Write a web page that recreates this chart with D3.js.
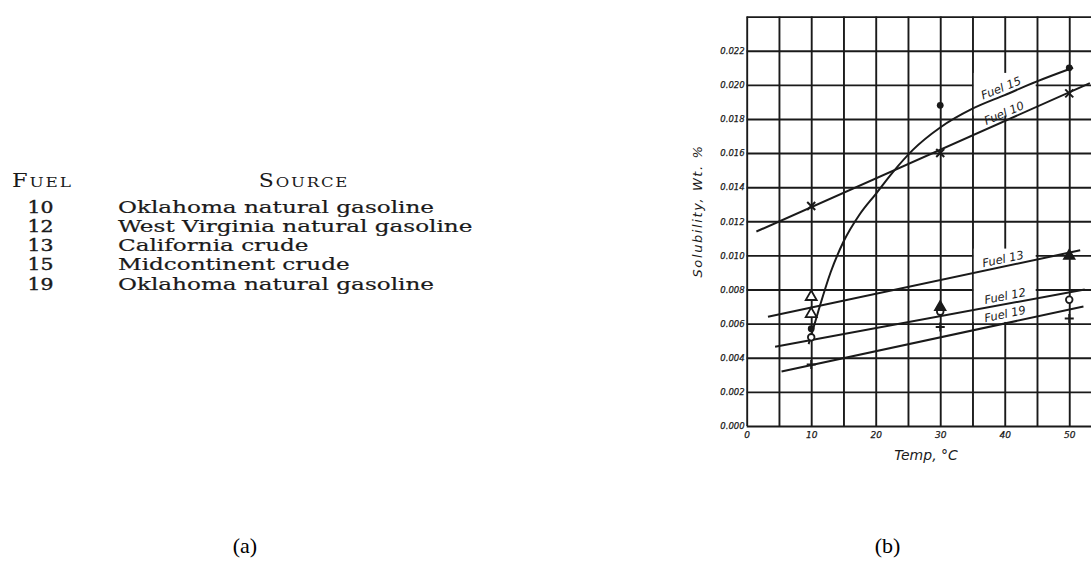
<!DOCTYPE html>
<html>
<head>
<meta charset="utf-8">
<script src="https://cdn.jsdelivr.net/npm/d3@7"></script>
<style>
  body { margin: 0; background: #fff; }
  svg { display: block; }
</style>
</head>
<body>
<svg id="fig" width="1091" height="561"></svg>
<script>
// ---- table (a): fuels and their sources ----
const fuelIds = ["10", "12", "13", "15", "19"];
const fuelSources = [
  "Oklahoma natural gasoline",
  "West Virginia natural gasoline",
  "California crude",
  "Midcontinent crude",
  "Oklahoma natural gasoline"
];

// ---- chart (b): solubility of water vs temperature ----
const tempGrid = [0, 5, 10, 15, 20, 25, 30, 35, 40, 45, 50, 55];
const tempLabels = [0, 10, 20, 30, 40, 50];
const solGrid = [0, 0.002, 0.004, 0.006, 0.008, 0.010, 0.012, 0.014, 0.016, 0.018, 0.020, 0.022, 0.024];
const solLabels = [0, 0.002, 0.004, 0.006, 0.008, 0.010, 0.012, 0.014, 0.016, 0.018, 0.020, 0.022];

// measured points [temp °C, solubility wt %]
const fuel10Points = [[10, 0.0129], [30, 0.0160], [50, 0.0195]];
const fuel12Points = [[10, 0.0052], [30, 0.0067], [50, 0.0074]];
const fuel13Points = [[30, 0.0070], [50, 0.0100]];
const fuel13RepeatPoints = [[10, 0.0076], [10, 0.0066]];
const fuel15Points = [[10, 0.0057], [30, 0.0188], [50, 0.0210]];
const fuel19Points = [[10, 0.0036], [30, 0.0058], [50, 0.0063]];

// drawn curves through the data
const fuel10Curve = [[1.5, 0.0114], [53.2, 0.0201]];
const fuel12Curve = [[4.4, 0.00465], [52.4, 0.0080]];
const fuel13Curve = [[3.3, 0.0064], [51.7, 0.0103]];
const fuel19Curve = [[5.4, 0.0032], [52.2, 0.0070]];
const fuel15Curve = [[9.6, 0.0048], [11, 0.0066], [13, 0.0090], [15, 0.0108], [17.5, 0.0124],
                     [20, 0.0136], [22.7, 0.0149], [25.8, 0.0162], [30, 0.0175], [35, 0.0186],
                     [40, 0.0194], [45, 0.0202], [50.6, 0.0210]];

const curveLabels = ["Fuel 15", "Fuel 10", "Fuel 13", "Fuel 12", "Fuel 19"];

const svg = d3.select("#fig");
const ink = "#1a1a1a";

// ---------- (a) table ----------
const tbl = svg.append("g")
  .attr("font-family", "'DejaVu Serif', serif")
  .attr("fill", ink);

const hdrFuel = tbl.append("text")
  .attr("transform", "translate(12,187) scale(1.25,1)")
  .attr("letter-spacing", 1.5);
hdrFuel.append("tspan").attr("font-size", 18).text("F");
hdrFuel.append("tspan").attr("font-size", 13.5).text("UEL");

const hdrSrc = tbl.append("text")
  .attr("transform", "translate(304,187) scale(1.22,1)")
  .attr("text-anchor", "middle").attr("letter-spacing", 1.5);
hdrSrc.append("tspan").attr("font-size", 18).text("S");
hdrSrc.append("tspan").attr("font-size", 13.5).text("OURCE");

const rowY = d3.scalePoint().domain(fuelIds).range([212.5, 289.5]);
tbl.selectAll("text.id").data(fuelIds).join("text")
  .attr("class", "id")
  .attr("transform", d => `translate(40.5,${rowY(d)}) scale(1.2,1)`)
  .attr("text-anchor", "middle").attr("font-size", 17)
  .attr("stroke", ink).attr("stroke-width", 0.4)
  .text(d => d);
tbl.selectAll("text.src").data(fuelSources).join("text")
  .attr("class", "src")
  .attr("transform", (d, i) => `translate(118,${rowY(fuelIds[i])}) scale(1.36,1)`)
  .attr("font-size", 17)
  .attr("stroke", ink).attr("stroke-width", 0.2)
  .text(d => d);

// ---------- (b) chart ----------
const x = d3.scaleLinear().domain([0, 55]).range([746.7, 1101.5]);
const y = d3.scaleLinear().domain([0, 0.024]).range([426, 16.6]);

const chart = svg.append("g");

// grid: vertical lines every 5 °C, horizontal every 0.002
chart.append("g").attr("transform", `translate(0,${y(0)})`)
  .call(d3.axisBottom(x).tickValues(tempGrid).tickSize(-(y(0) - y(0.024))).tickFormat(""))
  .call(g => g.select(".domain").remove())
  .selectAll("line").attr("stroke", ink).attr("stroke-width", 1.9);

chart.append("g").attr("transform", `translate(${x(0)},0)`)
  .call(d3.axisLeft(y).tickValues(solGrid).tickSize(-(x(55) - x(0))).tickFormat(""))
  .call(g => g.select(".domain").remove())
  .selectAll("line").attr("stroke", ink).attr("stroke-width", 1.9);

// spaces left open in the grid around the curve labels
const clearings = [
  [35.2, 44.8, 0.0182, 0.0207],
  [35.2, 44.8, 0.0061, 0.0104]
];
chart.selectAll("rect.clear").data(clearings).join("rect")
  .attr("class", "clear")
  .attr("x", d => x(d[0])).attr("width", d => x(d[1]) - x(d[0]))
  .attr("y", d => y(d[3])).attr("height", d => y(d[2]) - y(d[3]))
  .attr("fill", "#fff");

// tick labels
const tickFont = "'DejaVu Sans', sans-serif";
chart.append("g").attr("transform", `translate(${x(0) - 2},0)`)
  .call(d3.axisLeft(y).tickValues(solLabels).tickSize(0).tickPadding(0).tickFormat(d3.format(".3f")))
  .call(g => g.select(".domain").remove())
  .selectAll("text")
  .attr("font-family", tickFont).attr("font-style", "italic").attr("font-size", 8.5)
  .attr("stroke", ink).attr("stroke-width", 0.25)
  .attr("fill", ink);

chart.append("g").attr("transform", `translate(0,${y(0) + 6})`)
  .call(d3.axisBottom(x).tickValues(tempLabels).tickSize(0).tickPadding(0).tickFormat(d3.format("d")))
  .call(g => g.select(".domain").remove())
  .selectAll("text")
  .attr("font-family", tickFont).attr("font-style", "italic").attr("font-size", 9)
  .attr("stroke", ink).attr("stroke-width", 0.25)
  .attr("fill", ink);

// axis titles
chart.append("text")
  .attr("x", 926).attr("y", 460)
  .attr("text-anchor", "middle")
  .attr("font-family", tickFont).attr("font-style", "italic").attr("font-size", 14)
  .attr("fill", ink)
  .text("Temp, °C");

chart.append("text")
  .attr("transform", "translate(702,211) rotate(-90)")
  .attr("text-anchor", "middle")
  .attr("font-family", tickFont).attr("font-style", "italic").attr("font-size", 13)
  .attr("letter-spacing", 1.6)
  .attr("fill", ink)
  .text("Solubility, Wt. %");

// curves
const line = d3.line().x(d => x(d[0])).y(d => y(d[1]));
const smooth = d3.line().x(d => x(d[0])).y(d => y(d[1])).curve(d3.curveMonotoneX);
const curves = chart.append("g").attr("fill", "none").attr("stroke", ink).attr("stroke-width", 2);
[fuel10Curve, fuel12Curve, fuel13Curve, fuel19Curve].forEach(c => curves.append("path").attr("d", line(c)));
curves.append("path").attr("d", smooth(fuel15Curve));

// markers
const marks = chart.append("g").attr("stroke", ink).attr("stroke-width", 2);
// Fuel 10: ×
marks.selectAll("path.f10").data(fuel10Points).join("path")
  .attr("class", "f10")
  .attr("d", d => { const cx = x(d[0]), cy = y(d[1]), r = 4;
    return `M${cx - r},${cy - r}L${cx + r},${cy + r}M${cx - r},${cy + r}L${cx + r},${cy - r}`; });
// Fuel 19: +
marks.selectAll("path.f19").data(fuel19Points).join("path")
  .attr("class", "f19")
  .attr("d", d => { const cx = x(d[0]), cy = y(d[1]), r = 4.5;
    return `M${cx - r},${cy}L${cx + r},${cy}M${cx},${cy - r}L${cx},${cy + r}`; });
// Fuel 15: filled dots
marks.selectAll("circle.f15").data(fuel15Points).join("circle")
  .attr("class", "f15")
  .attr("cx", d => x(d[0])).attr("cy", d => y(d[1])).attr("r", 3.4)
  .attr("fill", ink).attr("stroke", "none");
// Fuel 12: open circles
marks.selectAll("circle.f12").data(fuel12Points).join("circle")
  .attr("class", "f12")
  .attr("cx", d => x(d[0])).attr("cy", d => y(d[1])).attr("r", 3.3)
  .attr("fill", "#fff").attr("stroke-width", 1.8);
// Fuel 13: triangles (solid), repeat runs hollow
const tri = d3.symbol().type(d3.symbolTriangle).size(52);
marks.selectAll("path.f13").data(fuel13Points).join("path")
  .attr("class", "f13")
  .attr("transform", d => `translate(${x(d[0])},${y(d[1]) + 0.5})`)
  .attr("d", tri)
  .attr("fill", ink).attr("stroke-width", 1.5);
marks.selectAll("path.f13r").data(fuel13RepeatPoints).join("path")
  .attr("class", "f13r")
  .attr("transform", d => `translate(${x(d[0])},${y(d[1]) + 0.5})`)
  .attr("d", tri)
  .attr("fill", "#fff").attr("stroke-width", 1.8);

// curve labels, set just above their lines
const labelPlaces = [
  [1001, 88, -22],
  [1004, 113, -23],
  [1003, 259, -12],
  [1005, 296, -11],
  [1005, 314, -12]
];
chart.selectAll("text.lab").data(curveLabels).join("text")
  .attr("class", "lab")
  .attr("transform", (d, i) => `translate(${labelPlaces[i][0]},${labelPlaces[i][1]}) rotate(${labelPlaces[i][2]})`)
  .attr("text-anchor", "middle").attr("dy", "0.35em")
  .attr("font-family", tickFont).attr("font-style", "italic").attr("font-size", 11.5)
  .attr("fill", ink)
  .text(d => d);

// panel captions
svg.selectAll("text.cap").data(["(a)", "(b)"]).join("text")
  .attr("class", "cap")
  .attr("x", (d, i) => [245, 887.5][i]).attr("y", 553)
  .attr("text-anchor", "middle")
  .attr("font-family", "'Liberation Serif', serif").attr("font-size", 22)
  .attr("fill", "#000")
  .text(d => d);
</script>
</body>
</html>
